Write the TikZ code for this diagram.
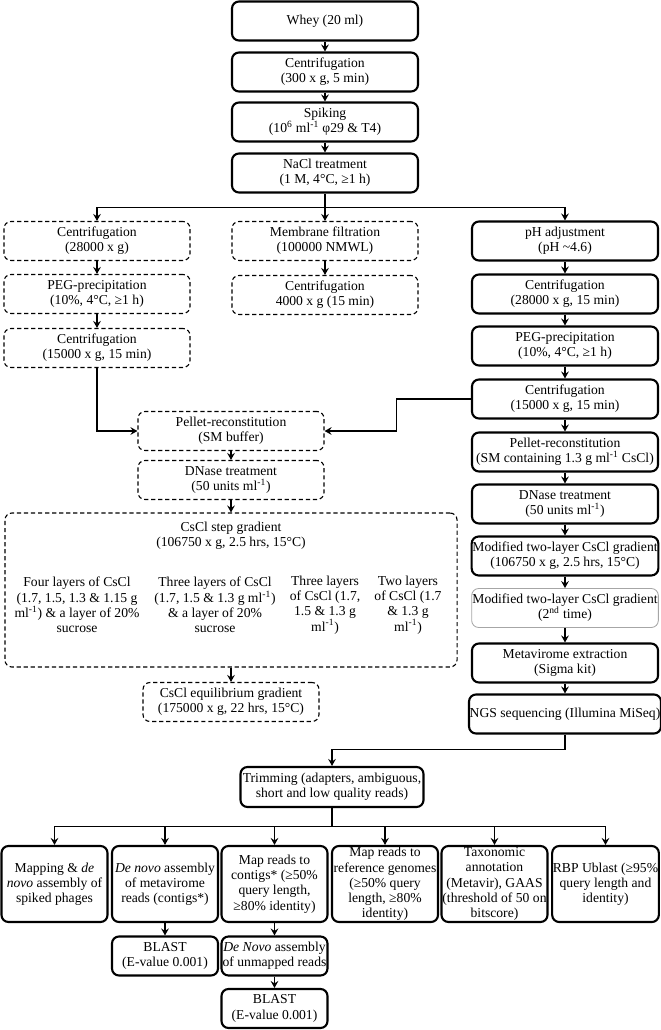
\documentclass[tikz,border=0pt]{standalone}
\usepackage{fontspec}
\setmainfont{Liberation Serif}
\usetikzlibrary{arrows.meta}

\begin{document}
\begin{tikzpicture}[x=0.025cm, y=-0.025cm, >={Stealth[length=5pt, width=5.5pt, inset=1.8pt]},
    font=\fontsize{9.7}{10.8}\selectfont,
    procbox/.style={draw, rounded corners=5pt, align=center, inner xsep=0.5pt, inner ysep=1.5pt, minimum height=0.975cm},
    solidbox/.style={procbox, line width=1.5pt},
    dashbox/.style={procbox, dash pattern=on 3pt off 2pt, line width=0.8pt},
    greybox/.style={procbox, draw=black!35, line width=0.6pt},
    colwide/.style={minimum width=4.65cm},
    leafbox/.style={solidbox, minimum width=2.65cm, minimum height=1.9cm, inner ysep=0pt},
    wire/.style={line width=0.8pt},
    flow/.style={wire, ->}]
    \useasboundingbox (0, 0) rectangle (660, 1030);

    \node[solidbox, colwide] (whey) at (325, 21) {Whey (20 ml)};
    \node[solidbox, colwide] (cent) at (325, 72) {Centrifugation\\(300 x g, 5 min)};
    \node[solidbox, colwide] (spike) at (325, 122) {Spiking\\(10\textsuperscript{6} ml\textsuperscript{-1} φ29 \& T4)};
    \node[solidbox, colwide] (nacl) at (325, 173) {NaCl treatment\\(1 M, 4°C, ≥1 h)};

    \node[dashbox, colwide] (lcent1) at (97, 241) {Centrifugation\\(28000 x g)};
    \node[dashbox, colwide] (lpeg) at (97, 294) {PEG-precipitation\\(10\%, 4°C, ≥1 h)};
    \node[dashbox, colwide] (lcent2) at (97, 348) {Centrifugation\\(15000 x g, 15 min)};

    \node[dashbox, colwide] (mfilt) at (325, 241) {Membrane filtration\\(100000 NMWL)};
    \node[dashbox, colwide] (mcent) at (325, 295) {Centrifugation\\4000 x g (15 min)};

    \node[solidbox, colwide] (rph) at (565, 241) {pH adjustment\\(pH \textasciitilde4.6)};
    \node[solidbox, colwide] (rcent1) at (565, 294) {Centrifugation\\(28000 x g, 15 min)};
    \node[solidbox, colwide] (rpeg) at (565, 346) {PEG-precipitation\\(10\%, 4°C, ≥1 h)};
    \node[solidbox, colwide] (rcent2) at (565, 399) {Centrifugation\\(15000 x g, 15 min)};
    \node[solidbox, colwide] (rpellet) at (565, 452) {Pellet-reconstitution\\(SM containing 1.3 g ml\textsuperscript{-1} CsCl)};
    \node[solidbox, colwide] (rdnase) at (565, 504) {DNase treatment\\(50 units ml\textsuperscript{-1})};
    \node[solidbox, colwide] (rmod) at (565, 556) {Modified two-layer CsCl gradient\\(106750 x g, 2.5 hrs, 15°C)};
    \node[greybox, colwide] (rmod2) at (565, 608) {Modified two-layer CsCl gradient\\(2\textsuperscript{nd} time)};
    \node[solidbox, colwide] (rext) at (565, 663) {Metavirome extraction\\(Sigma kit)};
    \node[solidbox, colwide] (rngs) at (565, 714) {NGS sequencing (Illumina MiSeq)};

    \node[dashbox, colwide] (lpellet) at (231, 431) {Pellet-reconstitution\\(SM buffer)};
    \node[dashbox, colwide] (ldnase) at (231, 480) {DNase treatment\\(50 units ml\textsuperscript{-1})};
    \node[dashbox, minimum width=11.3cm, minimum height=3.85cm] (cscl) at (231, 590) {};
    \node[align=center] (csclhead) at (231, 536) {CsCl step gradient\\(106750 x g, 2.5 hrs, 15°C)};
    \node[align=center] (layer4) at (77, 605) {Four layers of CsCl\\(1.7, 1.5, 1.3 \& 1.15 g\\ml\textsuperscript{-1}) \& a layer of 20\%\\sucrose};
    \node[align=center] (layer3s) at (215, 605) {Three layers of CsCl\\(1.7, 1.5 \& 1.3 g ml\textsuperscript{-1})\\\& a layer of 20\%\\sucrose};
    \node[align=center] (layer3) at (325, 605) {Three layers\\of CsCl (1.7,\\1.5 \& 1.3 g\\ml\textsuperscript{-1})};
    \node[align=center] (layer2) at (408, 605) {Two layers\\of CsCl (1.7\\\& 1.3 g\\ml\textsuperscript{-1})};
    \node[dashbox, minimum width=4.4cm] (lequil) at (231, 702) {CsCl equilibrium gradient\\(175000 x g, 22 hrs, 15°C)};

    \node[solidbox, minimum width=4.575cm, minimum height=1cm] (trim) at (332, 787) {Trimming (adapters, ambiguous,\\short and low quality reads)};

    \node[leafbox] (b1) at (54.5, 884) {Mapping \& \textit{de}\\\textit{novo} assembly of\\spiked phages};
    \node[leafbox] (b2) at (165, 884) {\textit{De novo} assembly\\of metavirome\\reads (contigs*)};
    \node[leafbox] (b3) at (274.5, 884) {Map reads to\\contigs* (≥50\%\\query length,\\≥80\% identity)};
    \node[leafbox] (b4) at (385, 884) {Map reads to\\reference genomes\\(≥50\% query\\length, ≥80\%\\identity)};
    \node[leafbox] (b5) at (494.5, 884) {Taxonomic\\annotation\\(Metavir), GAAS\\(threshold of 50 on\\bitscore)};
    \node[leafbox] (b6) at (605.5, 884) {RBP Ublast (≥95\%\\query length and\\identity)};

    \node[solidbox, minimum width=2.65cm] (blast1) at (165, 956) {BLAST\\(E-value 0.001)};
    \node[solidbox, minimum width=2.65cm] (denovo) at (274.5, 956) {\textit{De Novo} assembly\\of unmapped reads};
    \node[solidbox, minimum width=2.65cm] (blast2) at (274.5, 1008.5) {BLAST\\(E-value 0.001)};

    \foreach \a/\b in {whey/cent, cent/spike, spike/nacl, lcent1/lpeg, lpeg/lcent2, mfilt/mcent,
        rph/rcent1, rcent1/rpeg, rpeg/rcent2, rcent2/rpellet, rpellet/rdnase, rdnase/rmod,
        rmod/rmod2, rmod2/rext, rext/rngs, lpellet/ldnase, ldnase/cscl, cscl/lequil,
        b2/blast1, b3/denovo, denovo/blast2}
        \draw[flow] (\a.south) -- (\b.north);

    \draw[wire] (nacl.south) -- ++(0, 14) coordinate (nsplit);
    \foreach \n in {lcent1, mfilt, rph}
        \draw[flow] (nsplit) -| (\n.north);

    \draw[flow] (lcent2.south) |- (lpellet.west);
    \draw[flow] (rcent2.west) -- ++(-74, 0) |- (lpellet.east);

    \draw[flow] (rngs.south) -- ++(0, 15) -| (trim.north);
    \draw[wire] (trim.south) -- ++(0, 18) coordinate (tsplit);
    \foreach \n in {b1, b2, b3, b4, b5, b6}
        \draw[flow] (tsplit) -| (\n.north);
\end{tikzpicture}
\end{document}
